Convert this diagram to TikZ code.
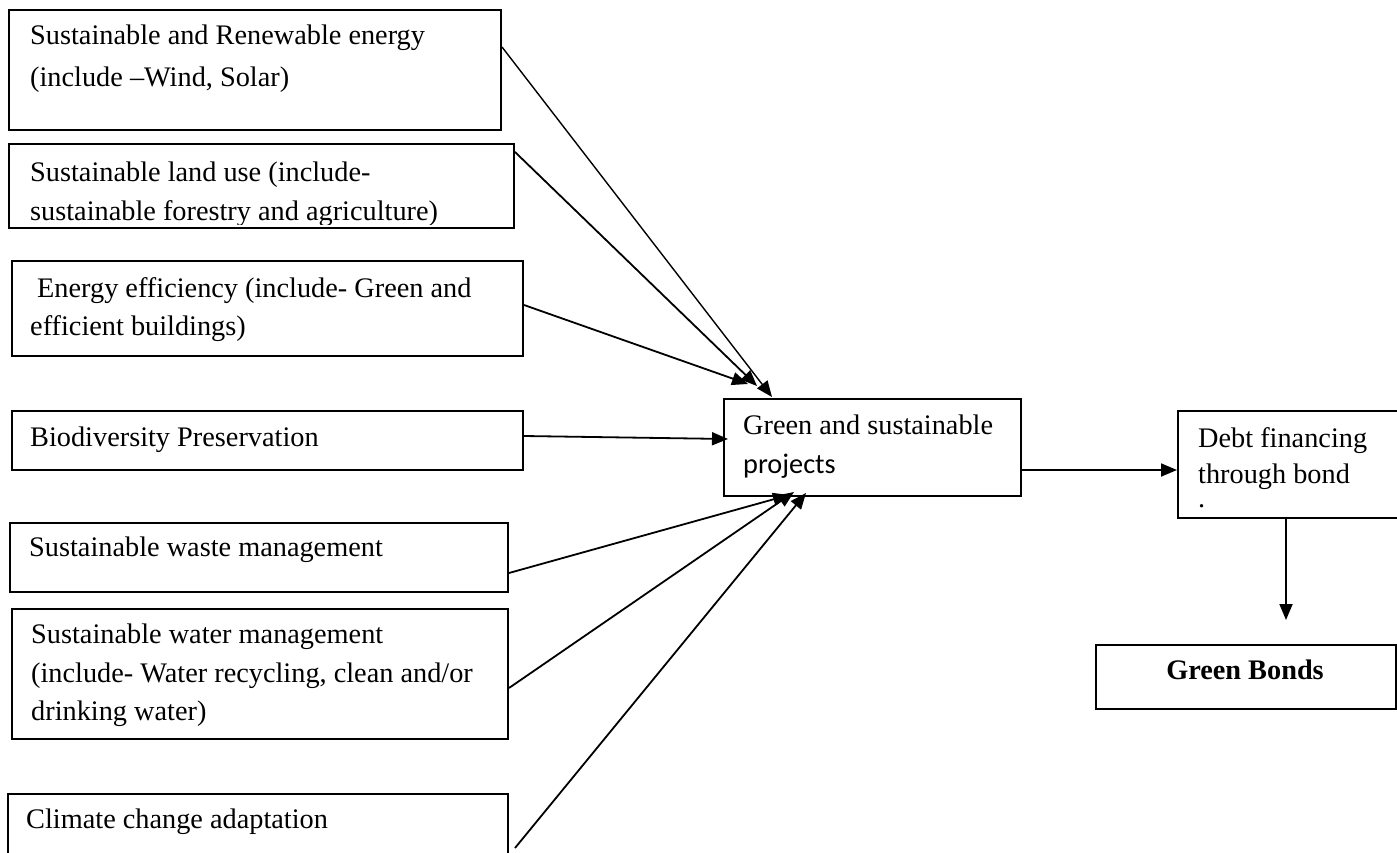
\documentclass[tikz,border=0pt]{standalone}
\usepackage{fontspec}
\setmainfont{Liberation Serif}
\newfontfamily\calibrifont{Carlito}
\usetikzlibrary{arrows.meta,calc}
\tikzset{
  box/.style={draw, line width=2pt, inner sep=0pt, anchor=north west},
  txt/.style={anchor=base west, inner sep=0pt, font=\fontsize{28.3pt}{34pt}\selectfont},
  conn/.style={line width=1.8pt, -{Triangle[length=16pt,width=13pt]}},
}
\begin{document}
\begin{tikzpicture}[x=1pt,y=-1pt]
\useasboundingbox (0,0) rectangle (1397,853);
\clip (0,0) rectangle (1397,853);
\fill[white] (0,0) rectangle (1397,853);

% left boxes
\node[box, minimum width=492pt, minimum height=120pt] (b1) at (8,9) {};
\node[box, minimum width=505pt, minimum height=84pt] (b2) at (8,143) {};
\node[box, minimum width=511pt, minimum height=95pt] (b3) at (11,260) {};
\node[box, minimum width=511pt, minimum height=59pt] (b4) at (11,410) {};
\node[box, minimum width=498pt, minimum height=69pt] (b5) at (9,522) {};
\node[box, minimum width=496pt, minimum height=130pt] (b6) at (11,608) {};
\node[box, minimum width=500pt, minimum height=120pt] (b7) at (7,793) {};

% right boxes
\node[box, minimum width=297pt, minimum height=97pt] (green) at (723,398) {};
\node[box, minimum width=300pt, minimum height=107pt] (debt) at (1177,410) {};
\node[box, minimum width=300pt, minimum height=64pt] (gb) at (1095,644) {};

% texts
\node[txt] (t1a) at (30,45) {Sustainable and Renewable energy};
\node[txt] (t1b) at (30,87) {(include –Wind, Solar)};
\begin{scope}
  \clip (b2.north west) rectangle ([yshift=5pt]b2.south east);
  \node[txt] (t2a) at (30,182) {Sustainable land use (include-};
  \node[txt] (t2b) at (30,220) {sustainable forestry and agriculture)};
\end{scope}
\node[txt] (t3a) at (37,297) {Energy efficiency (include- Green and};
\node[txt] (t3b) at (30,335) {efficient buildings)};
\node[txt] (t4) at (30,446) {Biodiversity Preservation};
\node[txt] (t5) at (29,556) {Sustainable waste management};
\node[txt] (t6a) at (31,643) {Sustainable water management};
\node[txt] (t6b) at (31,682) {(include- Water recycling, clean and/or};
\node[txt] (t6c) at (31,720) {drinking water)};
\node[txt] (t7) at (26,828) {Climate change adaptation};
\node[txt] (g1) at (743,434) {Green and sustainable};
\node[txt] (g2) at (743,473) {\calibrifont projects};
\node[txt] (d1) at (1198,447) {Debt financing};
\node[txt] (d2) at (1198,483) {through bond};
\node[txt] (d3) at (1198,507) {.};
\node[txt, anchor=base, font=\fontsize{28.3pt}{34pt}\selectfont\bfseries] (gbt) at (1245,679) {Green Bonds};

% connectors into the projects box
\draw[conn, line width=1.4pt] ($(b1.north east)+(0,38)$) -- ($(green.north west)+(49,-1)$);
\draw[conn] ($(b2.north east)+(0,9)$) -- ($(green.north west)+(34,-12)$);
\draw[conn] ($(b3.north east)+(0,45)$) -- ($(green.north west)+(25,-14)$);
\draw[conn] ($(b4.north east)+(0,26)$) -- ($(green.north west)+(5,41)$);
\draw[conn] ($(b5.north east)+(0,51)$) -- ($(green.south west)+(66,-2)$);
\draw[conn] ($(b6.north east)+(0,80)$) -- ($(green.south west)+(71,-5)$);
\draw[conn] ($(b7.north east)+(6,55)$) -- ($(green.south west)+(83,-4)$);

% projects -> debt -> down
\draw[conn] ($(green.north east)+(0,72)$) -- ($(debt.north west)+(0,60)$);
\coordinate (dend) at (1286,620);
\draw[conn] (debt.south west -| dend) -- (dend);
\end{tikzpicture}
\end{document}
